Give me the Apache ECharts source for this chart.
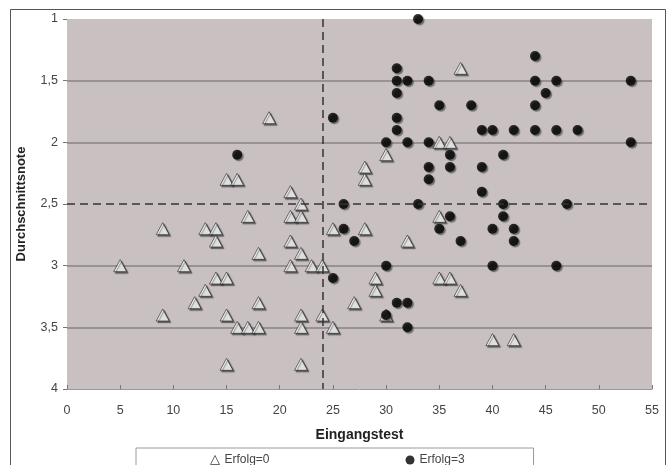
<!DOCTYPE html>
<html>
<head>
<meta charset="utf-8">
<script src="https://cdn.jsdelivr.net/npm/echarts@6/dist/echarts.min.js"></script>
<style>
html,body{margin:0;padding:0;background:#fff;}
#c{width:672px;height:465px;}
</style>
</head>
<body>
<div id="c"></div>
<script>
// Erfolg=0 (triangles)
var triX = [19,15,16,21,22,37,35,36,30,28,28,17,21,22,9,13,14,25,28,35,14,21,32,18,22,5,11,21,23,24,14,15,29,35,36,13,29,37,12,18,27,9,15,22,24,30,16,17,18,22,25,40,42,15,22];
var triY = [1.8,2.3,2.3,2.4,2.5,1.4,2,2,2.1,2.2,2.3,2.6,2.6,2.6,2.7,2.7,2.7,2.7,2.7,2.6,2.8,2.8,2.8,2.9,2.9,3,3,3,3,3,3.1,3.1,3.1,3.1,3.1,3.2,3.2,3.2,3.3,3.3,3.3,3.4,3.4,3.4,3.4,3.4,3.5,3.5,3.5,3.5,3.5,3.6,3.6,3.8,3.8];
// Erfolg=3 (circles)
var cirX = [33,44,31,31,32,34,44,46,53,31,45,35,38,44,25,31,31,39,40,42,44,46,48,30,32,34,53,16,36,41,34,36,39,34,39,26,33,41,47,36,41,26,35,40,42,27,37,42,30,40,46,25,31,32,30,32];
var cirY = [1,1.3,1.4,1.5,1.5,1.5,1.5,1.5,1.5,1.6,1.6,1.7,1.7,1.7,1.8,1.8,1.9,1.9,1.9,1.9,1.9,1.9,1.9,2,2,2,2,2.1,2.1,2.1,2.2,2.2,2.2,2.3,2.4,2.5,2.5,2.5,2.5,2.6,2.6,2.7,2.7,2.7,2.7,2.8,2.8,2.8,3,3,3,3.1,3.3,3.3,3.4,3.5];
var yTicks = ['1','1,5','2','2,5','3','3,5','4'];
var refX = 24, refY = 2.5;
var seriesNames = ['Erfolg=0','Erfolg=3'];

function zip(a,b){ return a.map(function(v,i){ return [v,b[i]]; }); }

var FONT = 'Liberation Sans, Arial, sans-serif';
var grid = '#878282';
var chart = echarts.init(document.getElementById('c'), null, {renderer:'canvas'});
chart.setOption({
  animation:false,
  backgroundColor:'#ffffff',
  textStyle:{fontFamily:FONT},
  graphic:[{
    type:'rect', z:-10, silent:true,
    shape:{x:10.5,y:9.5,width:655,height:470},
    style:{fill:'none',stroke:'#555',lineWidth:1}
  }],
  grid:{left:67,right:20,top:19,bottom:76,show:true,backgroundColor:'#c9c1c1',borderWidth:0},
  legend:{
    left:136, top:448,
    padding:[6,69,10,74],
    borderColor:'#9a9a9a', borderWidth:1,
    itemGap:136, itemWidth:9, itemHeight:9,
    textStyle:{fontFamily:FONT,fontSize:12,color:'#444'},
    data:[
      {name:seriesNames[0], icon:'triangle', itemStyle:{color:'#fff',borderColor:'#444',borderWidth:1}},
      {name:seriesNames[1], icon:'circle', itemStyle:{color:'#000'}}
    ]
  },
  xAxis:{
    type:'value', min:0, max:55, interval:5,
    name:'Eingangstest', nameLocation:'middle', nameGap:39,
    nameTextStyle:{fontFamily:FONT,fontSize:14,fontWeight:'bold',color:'#222'},
    axisLine:{show:true,lineStyle:{color:'#999',width:1}},
    axisTick:{show:true,inside:true,length:4,lineStyle:{color:'#777'}},
    axisLabel:{fontFamily:FONT,fontSize:12.5,color:'#444',margin:15},
    splitLine:{show:false}
  },
  yAxis:{
    type:'value', min:1, max:4, interval:0.5, inverse:true,
    name:'Durchschnittsnote', nameLocation:'middle', nameGap:39,
    nameTextStyle:{fontFamily:FONT,fontSize:13,fontWeight:'bold',color:'#222'},
    axisLine:{show:false},
    axisTick:{show:true,length:4,lineStyle:{color:'#777'}},
    axisLabel:{fontFamily:FONT,fontSize:12.5,color:'#444',margin:9,
      formatter:function(v){ var i=Math.round((v-1)*2); return yTicks[i]; }},
    splitLine:{show:true,lineStyle:{color:['rgba(0,0,0,0)',grid,grid,'rgba(0,0,0,0)',grid,grid,'rgba(0,0,0,0)'],width:1.5}}
  },
  series:[
    {
      name:seriesNames[0], type:'scatter', symbol:'triangle', symbolSize:[13,12],
      data:zip(triX,triY),
      itemStyle:{color:'#fff',borderColor:'#222',borderWidth:0.8,shadowColor:'rgba(50,50,50,0.85)',shadowOffsetX:1.5,shadowOffsetY:1.5,shadowBlur:1},
      markLine:{
        silent:true, symbol:['none','none'], label:{show:false},
        lineStyle:{color:'#333',type:[8,5],width:1.5},
        data:[{xAxis:refX},{yAxis:refY}]
      },
      z:3
    },
    {
      name:seriesNames[1], type:'scatter', symbol:'circle', symbolSize:10,
      data:zip(cirX,cirY),
      itemStyle:{color:'#000',shadowColor:'rgba(60,60,60,0.8)',shadowOffsetX:1.5,shadowOffsetY:1.5,shadowBlur:1},
      z:4
    }
  ]
});
</script>
</body>
</html>
